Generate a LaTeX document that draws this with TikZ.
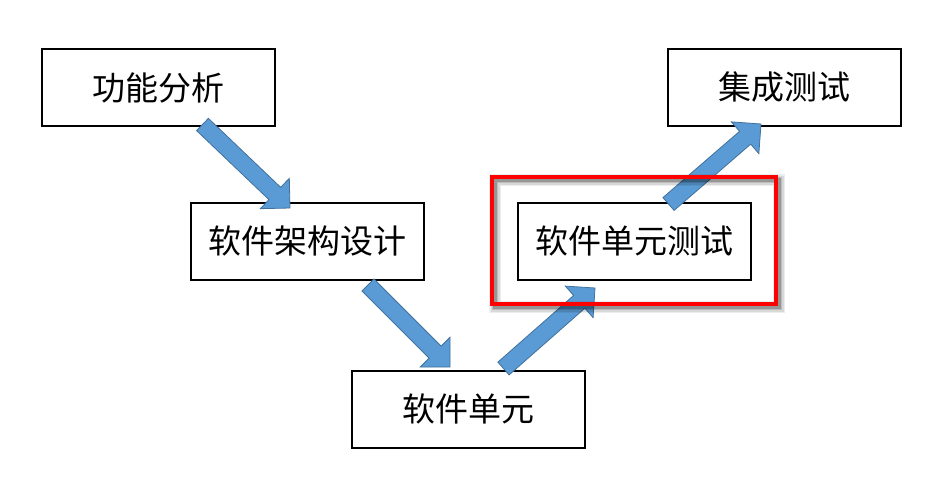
\documentclass[tikz,border=0pt]{standalone}
\usepackage{fontspec}
\newfontfamily\cjk{Noto Sans CJK SC}
\usetikzlibrary{calc}
\definecolor{arrfill}{HTML}{5B9BD5}
\definecolor{arrline}{HTML}{41719C}
\tikzset{
  box/.style={draw=black, line width=2pt, minimum width=233pt, minimum height=77pt, inner sep=0pt, font=\cjk\fontsize{33pt}{40pt}\selectfont},
  fatarrow/.style={fill=arrfill, draw=arrline, line width=0.8pt, line join=miter},
  redframe/.style={draw=red, line width=4pt, inner sep=0pt, minimum width=284pt, minimum height=127pt},
}
\newcommand\fatarr[2]{%
  \coordinate (fh) at ($(#2)!21pt!(#1)$);
  \path[fatarrow] ($(#1)!8.5pt!90:(#2)$) -- ($(fh)!8.5pt!-90:(#1)$) -- ($(fh)!21pt!-90:(#1)$) -- (#2)
    -- ($(fh)!21pt!90:(#1)$) -- ($(fh)!8.5pt!90:(#1)$) -- ($(#1)!8.5pt!-90:(#2)$) -- cycle;
}
\begin{document}
\begin{tikzpicture}[x=1pt, y=-1pt]
\useasboundingbox (0,0) rectangle (946,498);
% boxes
\node[box] (fa) at (158.5,87.5) {功能分析};
\node[box] (jc) at (784.5,87.5) {集成测试};
\node[box] (jg) at (307,241) {软件架构设计};
\node[box] (cs) at (634,241) {软件单元测试};
\node[box] (dy) at (468,409) {软件单元};
% arrow end points
\coordinate (a1s) at (202.5,124.5); \coordinate (a1e) at (290,208);
\coordinate (a2s) at (368,285);   \coordinate (a2e) at (450,367);
\coordinate (a3s) at (503.5,368.5); \coordinate (a3e) at (595,288);
\coordinate (a4s) at (668.5,204); \coordinate (a4e) at (761,124);
\fatarr{a1s}{a1e}
\fatarr{a2s}{a2e}
\fatarr{a3s}{a3e}
\fatarr{a4s}{a4e}
% red frame with shadow
\coordinate (r1) at (492,177); \coordinate (r2) at (776,304);
\foreach \w/\o in {12/0.07, 9/0.09, 6/0.13, 3.5/0.2}
  \draw[black, opacity=\o, line width=\w pt] ($(r1)+(3,3)$) rectangle ($(r2)+(3,3)$);
\node[redframe] (rf) at ($(r1)!0.5!(r2)$) {};
\end{tikzpicture}
\end{document}
